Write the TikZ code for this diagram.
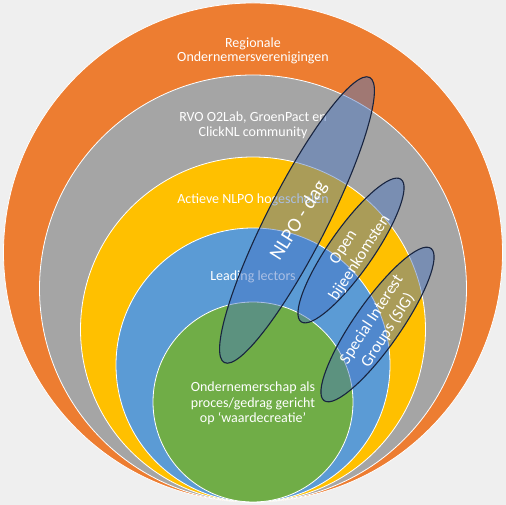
\documentclass[tikz,border=0pt]{standalone}
\usepackage{fontspec}
\setmainfont{Carlito}
\usepackage{tikz}
\definecolor{bg}{RGB}{239,239,239}
\definecolor{O}{RGB}{237,125,49}
\definecolor{G}{RGB}{165,165,165}
\definecolor{Y}{RGB}{255,192,0}
\definecolor{B}{RGB}{91,155,213}
\definecolor{Gr}{RGB}{112,173,71}
\definecolor{E}{RGB}{68,114,196}
\definecolor{Edge}{RGB}{24,36,64}
\newcommand{\drawring}[2]{\fill[#1,draw=white,line width=.8pt] (253,3+#2) circle (#2pt);}
\newcommand{\drawoval}[5]{\draw[oval,rotate around={#5:(#1,#2)}] (#1,#2) ellipse (#3pt and #4pt);}
\tikzset{
  lbl/.style={text=white,align=center,font=\fontsize{14}{14.5}\selectfont},
  oval/.style={fill=E,fill opacity=.45,draw=Edge,draw opacity=1,line width=1.1pt},
  ovallbl/.style={text=white,align=center,font=\fontsize{16.5}{19.5}\selectfont}
}

\begin{document}
\begin{tikzpicture}[x=1pt,y=1pt]
\fill[bg] (0,0) rectangle (506,505);
\useasboundingbox (0,0) rectangle (506,505);
\drawring{O}{249.5}\drawring{G}{213.5}\drawring{Y}{172.5}\drawring{B}{137}\drawring{Gr}{100}
\node[lbl] (regio) at (253,454) {Regionale\\Ondernemersverenigingen};
\node[lbl] (rvo) at (253,379.5) {RVO O2Lab, GroenPact en\\ClickNL community};
\node[lbl] (actieve) at (253,305) {Actieve NLPO hogescholen};
\node[lbl] (leading) at (253,228) {Leading lectors};
\node[lbl,font=\fontsize{14}{15.5}\selectfont] (kern) at (253,101.5) {Ondernemerschap als\\proces/gedrag gericht\\op ‘waardecreatie’};
\drawoval{297}{285}{160}{30}{63}
\drawoval{351}{254.5}{87}{22}{55}
\drawoval{377.5}{180.5}{93}{23}{55}
\node[ovallbl,font=\fontsize{20}{24}\selectfont,rotate=58] (nlpo) at (299,284) {NLPO - dag};
\node[ovallbl,rotate=57] (open) at (352,252) {Open\\bijeenkomsten};
\node[ovallbl,rotate=57] (sig) at (380,180) {Special Interest\\Groups (SIG)};
\end{tikzpicture}
\end{document}
